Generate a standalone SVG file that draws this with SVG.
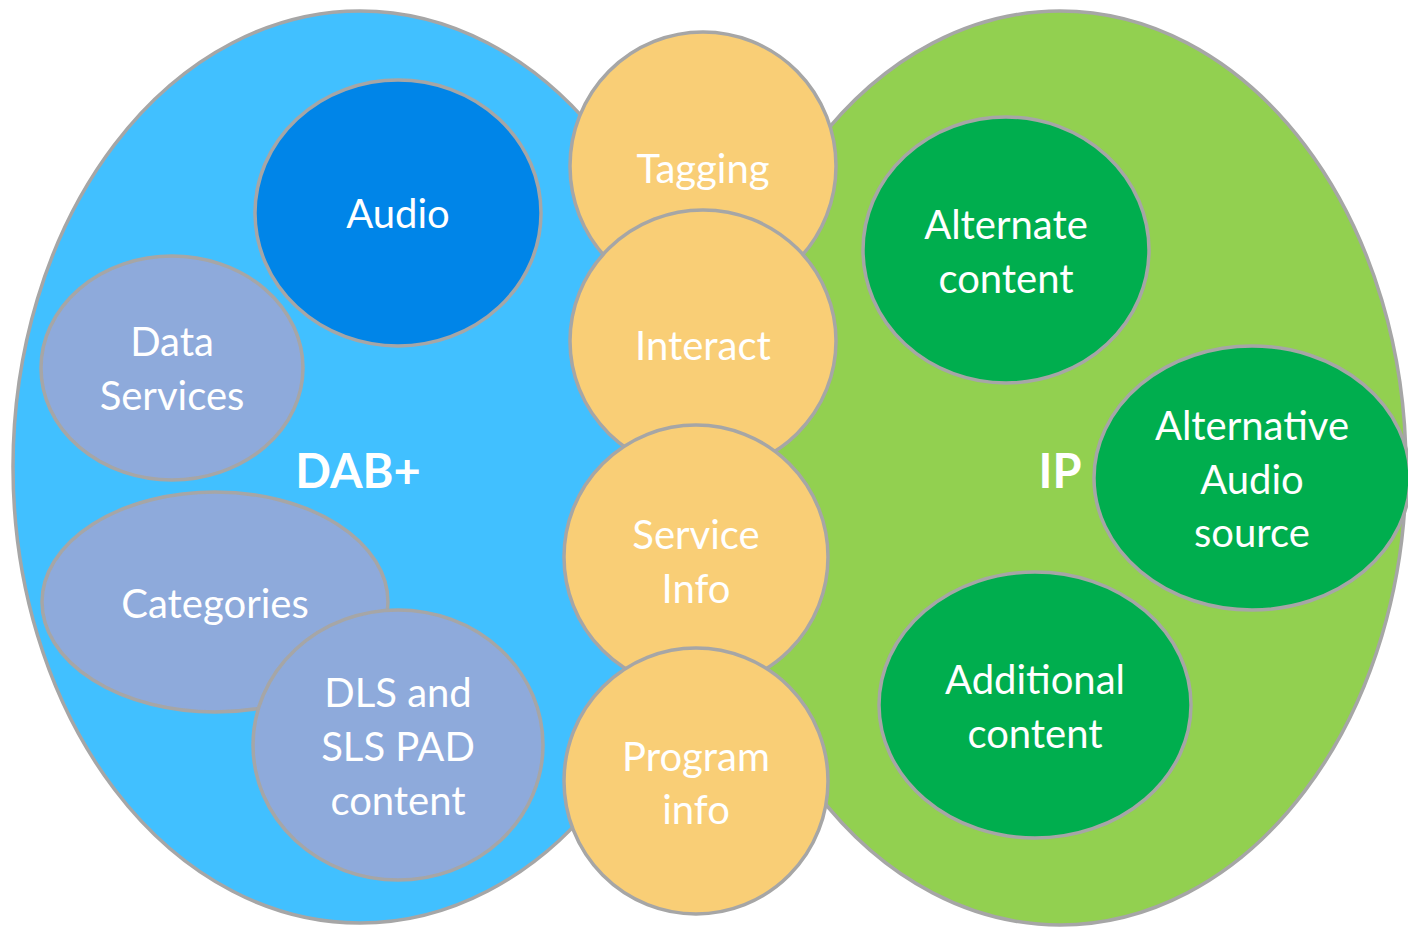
<svg xmlns="http://www.w3.org/2000/svg" width="1408" height="928" viewBox="0 0 1408 928">
<style>
.o{stroke:#A6A6A6;stroke-width:3.5}
.big{fill:#41C0FF}
.ip{fill:#92D050}
.orange{fill:#F9CE76}
.audio{fill:#0085E8}
.lav{fill:#8EAADB}
.gr{fill:#00AE4E}
text{font-family:Lato,"Liberation Sans",sans-serif;font-size:40px;fill:#FFFFFF;text-anchor:middle}
.title{font-weight:bold;font-size:47px}
</style>
<rect width="1408" height="928" fill="#FFFFFF"/>
<g id="dab">
<ellipse class="o big" cx="360" cy="467" rx="347" ry="456"/>
</g>
<g id="ipzone">
<ellipse class="o ip" cx="1060" cy="468" rx="346" ry="457"/>
</g>
<g id="dab-label"><text class="title" x="358" y="488">DAB+</text></g>
<g id="ip-label"><text class="title" x="1060" y="488">IP</text></g>
<g id="data-services">
<ellipse class="o lav" cx="172" cy="368" rx="131" ry="112"/>
<text x="172" y="356">Data</text>
<text x="172" y="410">Services</text>
</g>
<g id="audio">
<ellipse class="o audio" cx="398" cy="213" rx="143" ry="133"/>
<text x="398" y="228">Audio</text>
</g>
<g id="categories">
<ellipse class="o lav" cx="215" cy="602" rx="173" ry="110"/>
<text x="215" y="618">Categories</text>
</g>
<g id="dls">
<ellipse class="o lav" cx="398" cy="745" rx="145" ry="135"/>
<text x="398" y="707">DLS and</text>
<text x="398" y="761">SLS PAD</text>
<text x="398" y="815">content</text>
</g>
<g id="alternate-content">
<ellipse class="o gr" cx="1006" cy="250" rx="143" ry="133"/>
<text x="1006" y="239">Alternate</text>
<text x="1006" y="293">content</text>
</g>
<g id="alternative-audio">
<ellipse class="o gr" cx="1252" cy="478" rx="158" ry="132"/>
<text x="1252" y="440">Alternative</text>
<text x="1252" y="494">Audio</text>
<text x="1252" y="547">source</text>
</g>
<g id="additional-content">
<ellipse class="o gr" cx="1035" cy="705" rx="156" ry="133"/>
<text x="1035" y="694">Additional</text>
<text x="1035" y="748">content</text>
</g>
<g id="tagging">
<ellipse class="o orange" cx="703" cy="166" rx="133" ry="134"/>
<text x="703" y="183">Tagging</text>
</g>
<g id="interact">
<ellipse class="o orange" cx="703" cy="341" rx="133" ry="131"/>
<text x="703" y="360">Interact</text>
</g>
<g id="service-info">
<ellipse class="o orange" cx="696" cy="557" rx="132" ry="132"/>
<text x="696" y="549">Service</text>
<text x="696" y="603">Info</text>
</g>
<g id="program-info">
<ellipse class="o orange" cx="696" cy="781" rx="132" ry="133"/>
<text x="696" y="771">Program</text>
<text x="696" y="824">info</text>
</g>
<g id="connectors"></g>
</svg>
